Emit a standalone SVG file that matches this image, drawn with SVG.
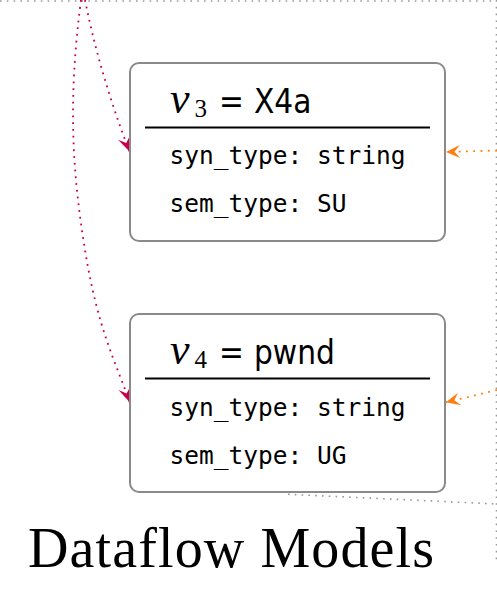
<svg xmlns="http://www.w3.org/2000/svg" width="497" height="589" viewBox="0 0 497 589">
<style>
.box{fill:#fff;stroke:#8a8a8a;stroke-width:2}
.sep{stroke:#000;stroke-width:2}
.mono{font-family:"DejaVu Sans Mono",monospace;font-size:24.5px;fill:#000}
.ttl{font-family:"DejaVu Sans Condensed","DejaVu Sans",sans-serif;font-stretch:condensed;font-size:33px;fill:#000}
.var{font-family:"Liberation Serif",serif;font-style:italic;font-size:44px}
.sub{font-family:"Liberation Serif",serif;font-style:normal;font-size:25px}
.gray{fill:none;stroke:#999;stroke-width:1.6;stroke-dasharray:1.6 5.2}
.red{fill:none;stroke:#c8004b;stroke-width:1.8;stroke-dasharray:1.8 5}
.orange{fill:none;stroke:#ff7f0e;stroke-width:1.8;stroke-dasharray:1.8 5.5}
</style>
<defs>
<marker id="ar" markerUnits="userSpaceOnUse" markerWidth="20" markerHeight="20" viewBox="-16 -10 20 20" refX="0" refY="0" orient="auto">
<path d="M0,0 L-15,-6.5 L-9,0 L-15,6.5 Z" fill="#c8004b"/>
</marker>
<marker id="ao" markerUnits="userSpaceOnUse" markerWidth="20" markerHeight="20" viewBox="-16 -10 20 20" refX="0" refY="0" orient="auto">
<path d="M0,0 L-14,-6.5 L-8.5,0 L-14,6.5 Z" fill="#ff7f0e"/>
</marker>
</defs>
<rect width="497" height="589" fill="#fff"/>
<g id="frame">
<line class="gray" x1="0" y1="1" x2="497" y2="1"/>
<line class="gray" x1="496.5" y1="0" x2="496.5" y2="560"/>
<line class="gray" x1="288" y1="494.3" x2="497" y2="504"/>
</g>
<g id="connectors">
<path class="red" d="M85,0 Q100,75 129.5,151.5" marker-end="url(#ar)"/>
<path class="red" d="M81,0 C68,100 72,170 85,250 S115,360 129.5,402" marker-end="url(#ar)"/>
<path class="orange" d="M497,150.5 L446,152" marker-end="url(#ao)"/>
<path class="orange" d="M497,390 L446,402.3" marker-end="url(#ao)"/>
</g>
<g id="v3">
<rect class="box" x="130" y="63" width="315" height="178" rx="9"/>
<text class="ttl" y="113"><tspan class="var" x="170">v</tspan><tspan class="sub" x="194.5" y="117">3</tspan><tspan x="219" y="113">=</tspan><tspan x="254">X4a</tspan></text>
<line class="sep" x1="145" y1="127.5" x2="430" y2="127.5"/>
<text class="mono" x="169.5" y="164">syn_type: string</text>
<text class="mono" x="169.5" y="212">sem_type: SU</text>
</g>
<g id="v4">
<rect class="box" x="130" y="314" width="315" height="178" rx="9"/>
<text class="ttl" y="364"><tspan class="var" x="170">v</tspan><tspan class="sub" x="194.5" y="368">4</tspan><tspan x="219" y="364">=</tspan><tspan x="254">pwnd</tspan></text>
<line class="sep" x1="145" y1="378.5" x2="430" y2="378.5"/>
<text class="mono" x="169.5" y="415.5">syn_type: string</text>
<text class="mono" x="169.5" y="463.5">sem_type: UG</text>
</g>
<text id="caption" x="28" y="566.5" font-family="Liberation Serif, serif" font-size="56" textLength="406" fill="#000">Dataflow Models</text>
</svg>
